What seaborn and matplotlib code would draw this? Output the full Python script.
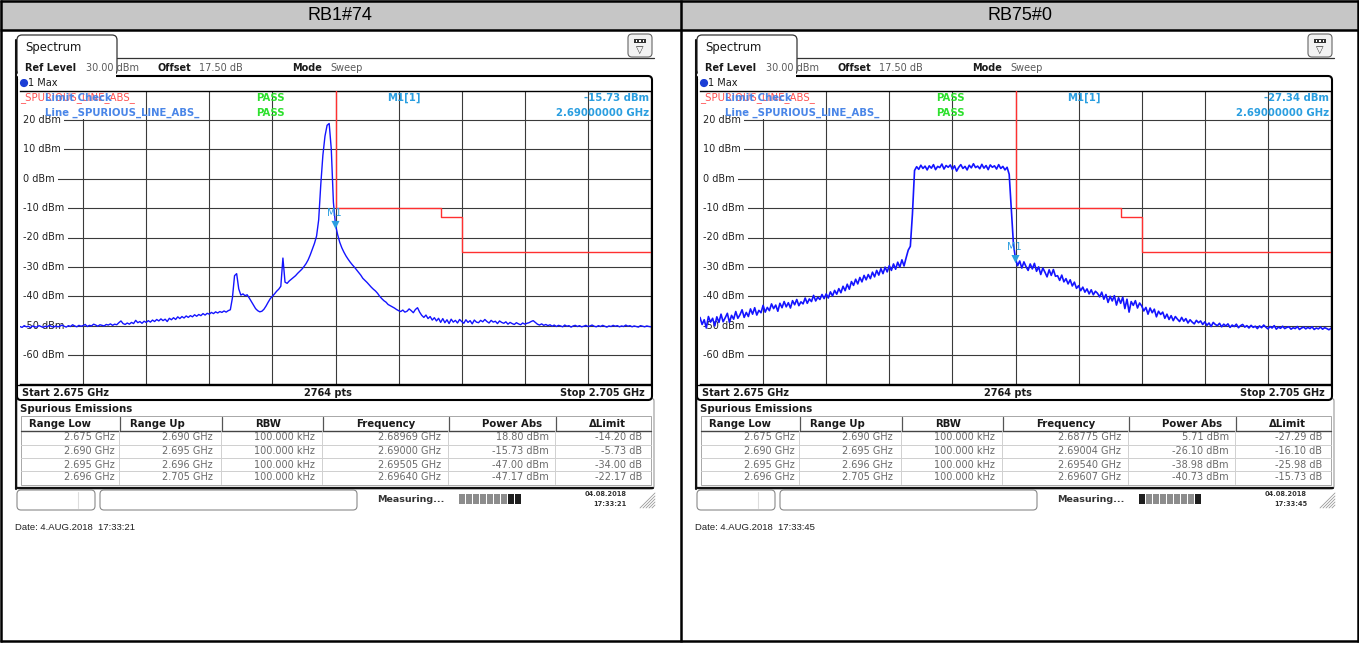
import numpy as np
import pandas as pd
import matplotlib
matplotlib.use('Agg')
import matplotlib.pyplot as plt
import matplotlib.patches as mpatches
import matplotlib.transforms as mtransforms
import seaborn as sns

W, H = 1359, 651

# ---- data ----------------------------------------------------------------
panel_titles = ['RB1#74', 'RB75#0']
f_start, f_stop = 2.675, 2.705          # GHz, levels below every 0.1 MHz
n_pts = 2764

# trace 1 Max, RB1#74 (dBm)
rb1_level = [
    -50.3, -50.6, -50.0, -50.4, -50.2, -50.7, -50.1, -50.4, -50.5, -50.0,
    -50.3, -50.6, -50.2, -50.4, -49.9, -50.3, -50.5, -50.1, -50.4, -50.2,
    -49.8, -50.2, -50.5, -50.0, -50.3, -49.7, -50.1, -50.4, -49.9, -50.2,
    -50.0, -49.6, -50.3, -49.9, -50.1, -49.5, -49.8, -50.2, -49.7, -49.9,
    -50.1, -49.6, -49.8, -49.4, -49.9, -49.5, -49.7, -49.0, -48.4, -49.3,
    -49.6, -49.1, -49.5, -48.9, -49.3, -48.2, -49.0, -48.6, -49.2, -48.5,
    -48.9, -48.3, -48.8, -48.1, -48.6, -47.9, -48.4, -47.7, -48.3, -47.8,
    -48.6, -47.5, -48.0, -47.3, -47.9, -47.0, -47.6, -46.9, -47.4, -46.7,
    -47.2, -46.6, -47.0, -46.3, -46.8, -46.2, -46.6, -45.9, -46.4, -45.8,
    -46.1, -45.5, -45.9, -45.3, -45.7, -45.2, -45.5, -45.0, -45.4, -44.9,
    -44.6, -40.5, -33.0, -32.3, -37.5, -39.6, -39.2, -39.8, -39.5, -40.6,
    -41.8, -43.0, -44.2, -44.9, -45.3, -45.1, -44.4, -43.3, -42.0, -40.8,
    -40.0, -39.2, -38.3, -37.6, -36.6, -27.0, -35.2, -35.6, -34.8, -34.2,
    -33.6, -33.0, -32.2, -31.5, -30.8, -29.9, -28.9, -27.6, -25.9, -24.0,
    -22.0, -19.5, -14.0, -2.0, 8.0, 14.5, 18.2, 18.8, 10.0, -8.0,
    -15.7, -19.0, -21.6, -23.5, -25.0, -26.3, -27.4, -28.4, -29.3, -30.1,
    -31.0, -31.9, -32.8, -33.9, -34.6, -35.3, -36.1, -36.9, -37.6, -38.2,
    -39.0, -40.0, -40.8, -41.5, -42.0, -42.8, -43.2, -43.6, -44.0, -44.5,
    -44.9, -45.2, -44.7, -45.4, -45.1, -44.3, -44.9, -45.6, -44.5, -43.9,
    -45.4, -46.5, -47.2, -46.4, -47.6, -46.9, -48.1, -47.3, -48.4, -47.5,
    -48.9, -47.6, -49.0, -48.0, -49.3, -47.8, -48.8, -48.2, -49.1, -47.9,
    -48.6, -49.2, -48.0, -48.9, -48.3, -49.4, -48.1, -48.8, -49.0, -48.2,
    -48.7, -47.9, -48.6, -49.1, -48.2, -48.8, -48.5, -49.3, -48.4, -48.9,
    -49.2, -48.7, -49.5, -48.9, -49.3, -49.6, -49.0, -49.4, -49.7, -49.1,
    -49.5, -49.2, -49.0, -48.6, -48.3, -48.9, -49.5, -49.8, -49.4, -49.9,
    -49.6, -50.0, -49.7, -50.2, -49.8, -50.3, -49.9, -50.1, -50.4, -49.8,
    -50.2, -50.0, -50.5, -50.1, -49.9, -50.3, -50.0, -50.4, -50.2, -49.9,
    -50.3, -50.1, -49.8, -50.2, -50.4, -50.0, -50.3, -49.9, -50.2, -50.5,
    -50.1, -50.3, -49.9, -50.2, -50.0, -50.4, -50.1, -50.3, -49.8, -50.2,
    -50.0, -50.4, -50.1, -50.3, -50.5, -50.0, -50.2, -50.4, -50.1, -50.3, -50.4,
]

# trace 1 Max, RB75#0 (dBm)
rb75_level = [
    -47.2, -49.6, -48.0, -50.8, -46.9, -48.8, -47.5, -50.1, -47.0, -48.9,
    -46.1, -48.7, -47.3, -45.8, -48.9, -46.5, -47.8, -45.2, -47.5, -46.3,
    -44.6, -47.2, -45.5, -46.9, -44.3, -46.1, -43.9, -46.4, -44.8, -45.6,
    -43.1, -45.4, -43.8, -44.9, -42.6, -44.2, -43.0, -45.1, -42.4, -43.9,
    -41.8, -43.6, -42.2, -44.0, -41.5, -42.9, -41.1, -43.2, -41.9, -42.6,
    -40.6, -42.4, -40.9, -41.8, -39.7, -41.6, -40.3, -41.1, -39.4, -40.8,
    -39.2, -40.6, -38.5, -39.9, -38.0, -39.3, -37.4, -38.8, -36.6, -38.1,
    -35.9, -37.6, -35.0, -36.3, -34.2, -35.8, -33.6, -35.1, -32.9, -34.4,
    -32.6, -34.0, -31.8, -33.4, -31.2, -32.8, -30.6, -32.3, -30.1, -31.7,
    -29.6, -31.2, -29.0, -30.8, -28.4, -30.1, -27.6, -29.7, -26.9, -24.3,
    -23.0, -12.0, 2.8, 4.1, 3.2, 4.6, 3.5, 4.3, 3.0, 4.4,
    3.6, 4.8, 3.1, 4.2, 3.8, 5.0, 3.3, 4.5, 3.9, 4.7,
    3.2, 4.4, 2.6, 3.9, 4.8, 3.5, 4.2, 3.0, 4.6, 3.7,
    5.1, 3.8, 4.3, 3.4, 4.9, 3.6, 4.5, 3.1, 4.7, 3.9,
    4.4, 3.3, 4.8, 3.5, 4.2, 3.0, 3.9, 1.5, -10.0, -22.0,
    -27.3, -29.6, -28.0, -30.4, -28.3, -29.9, -31.2, -29.0, -30.7, -28.8,
    -31.5, -30.0, -32.6, -30.4, -31.8, -33.4, -31.0, -32.9, -30.9, -33.2,
    -33.0, -34.6, -32.8, -35.1, -34.0, -35.8, -34.4, -36.5, -35.2, -37.3,
    -36.4, -38.1, -36.9, -38.6, -37.5, -39.2, -37.8, -39.5, -38.3, -39.0,
    -40.2, -38.6, -41.0, -39.4, -42.1, -40.0, -41.6, -39.8, -43.0, -40.5,
    -42.4, -40.3, -44.2, -41.0, -45.4, -41.8, -43.1, -41.5, -44.0, -42.3,
    -43.3, -45.0, -43.8, -46.1, -44.0, -45.6, -44.4, -47.0, -45.1, -46.2,
    -45.4, -47.5, -46.1, -47.9, -46.6, -48.3, -46.9, -47.8, -48.6, -47.2,
    -48.5, -47.6, -49.1, -48.0, -48.8, -49.4, -48.2, -49.0, -48.4, -49.6,
    -48.7, -49.9, -49.1, -50.3, -48.9, -49.6, -50.0, -49.2, -50.4, -49.5,
    -50.1, -49.4, -50.6, -49.8, -50.3, -49.5, -50.7, -50.0, -49.6, -50.5,
    -50.0, -50.8, -49.9, -50.6, -50.2, -51.0, -50.1, -50.7, -49.8, -50.5,
    -51.1, -50.3, -50.8, -50.0, -51.2, -50.5, -50.9, -50.2, -51.0, -50.6,
    -50.4, -51.2, -50.7, -51.0, -50.3, -51.3, -50.8, -50.5, -51.1, -50.6,
    -51.0, -50.4, -51.3, -50.8, -51.1, -50.5, -51.2, -50.7, -51.0, -51.4, -50.9,
]
traces = [rb1_level, rb75_level]

# _SPURIOUS_LINE_ABS_ limit (dBm, step starts)
limit_freq = [2.675, 2.690, 2.695, 2.696, 2.705]
limit_level = [33.0, -10.0, -13.0, -25.0, -25.0]

m1_freq = 2.690
m1_level = [-15.73, -27.34]

ytick_vals = [20, 10, 0, -10, -20, -30, -40, -50, -60]

range_low = ['2.675 GHz', '2.690 GHz', '2.695 GHz', '2.696 GHz']
range_up = ['2.690 GHz', '2.695 GHz', '2.696 GHz', '2.705 GHz']
rbw = ['100.000 kHz', '100.000 kHz', '100.000 kHz', '100.000 kHz']
spur_freq = [['2.68969 GHz', '2.69000 GHz', '2.69505 GHz', '2.69640 GHz'],
             ['2.68775 GHz', '2.69004 GHz', '2.69540 GHz', '2.69607 GHz']]
spur_power = [['18.80 dBm', '-15.73 dBm', '-47.00 dBm', '-47.17 dBm'],
              ['5.71 dBm', '-26.10 dBm', '-38.98 dBm', '-40.73 dBm']]
spur_delta = [['-14.20 dB', '-5.73 dB', '-34.00 dB', '-22.17 dB'],
              ['-27.29 dB', '-16.10 dB', '-25.98 dB', '-15.73 dB']]
clock = ['17:33:21', '17:33:45']
progress = [[0, 0, 0, 0, 0, 0, 0, 1, 1], [1, 0, 0, 0, 0, 0, 0, 0, 1]]

# ---- colours -------------------------------------------------------------
TRACE = '#1414ff'
LIMIT = '#ff3030'
MARK = '#2a9ee0'
LBLUE = '#4a86e8'
GREEN = '#2ee02e'
GRAYTXT = '#5a5a5a'

sns.set_style('white')
plt.rcParams['font.family'] = ['DejaVu Sans']

fig = plt.figure(figsize=(W / 100, H / 100), dpi=100)
bg = fig.add_axes([0, 0, 1, 1], zorder=0)
bg.set_xlim(0, W)
bg.set_ylim(H, 0)
bg.axis('off')
PX = bg.transData


def txt(ax, x, y, s, size=7, weight='normal', color='#1a1a1a', ha='left', **kw):
    ax.text(x, y, s, transform=PX, fontsize=size, fontweight=weight, color=color,
            ha=ha, va='center', **kw)


def rbox(x0, y0, x1, y1, r, **kw):
    bg.add_patch(mpatches.FancyBboxPatch((x0 + r, y0 + r), x1 - x0 - 2 * r, y1 - y0 - 2 * r,
                                         boxstyle=f'round,pad={r}', **kw))


# header band and cell borders
bg.add_patch(mpatches.Rectangle((0, 0), W, 30, facecolor='#c6c6c6', edgecolor='none'))
for xs, ys in [([1, 1], [0, 642]), ([1357.5, 1357.5], [0, 642]), ([0, W], [1, 1]),
               ([0, W], [641, 641]), ([0, W], [30, 30]), ([681, 681], [0, 642])]:
    bg.plot(xs, ys, color='black', lw=1.8, solid_capstyle='butt')


def draw_panel(i):
    ox = 680 * i
    txt(bg, ox + 340, 15, panel_titles[i], size=13, ha='center', family='Liberation Sans',
        color='black')

    # window tab + frame
    rbox(ox + 17, 35, ox + 117, 75, 5, facecolor='white', edgecolor='#333333', lw=0.9)
    bg.add_patch(mpatches.Rectangle((ox + 17.6, 58.6), 98.8, 20, facecolor='white',
                                    edgecolor='none', zorder=1.1))
    bg.plot([ox + 117, ox + 654], [58.3, 58.3], color='#333333', lw=0.9)
    bg.plot([ox + 16.3, ox + 16.3], [40, 489], color='#111111', lw=1.5)
    txt(bg, ox + 25, 47, 'Spectrum', size=8.4)
    rbox(ox + 628, 34, ox + 652, 57, 4, facecolor='#f2f2f2', edgecolor='#666666', lw=0.8)
    bg.add_patch(mpatches.Rectangle((ox + 634, 38.5), 12, 4.5, facecolor='#333333', edgecolor='none'))
    for dx in (636.5, 640, 643.5):
        bg.add_patch(mpatches.Rectangle((ox + dx - 0.9, 39.9), 1.8, 1.8, facecolor='white',
                                        edgecolor='none', zorder=2))
    txt(bg, ox + 640, 50, '\u25bd', size=7, ha='center', color='#333333')

    # settings row
    txt(bg, ox + 25, 68, 'Ref Level', size=7, weight='bold')
    txt(bg, ox + 86, 68, '30.00 dBm', size=7, color=GRAYTXT)
    txt(bg, ox + 157, 68, 'Offset', size=7, weight='bold')
    txt(bg, ox + 199, 68, '17.50 dB', size=7, color=GRAYTXT)
    txt(bg, ox + 292, 68, 'Mode', size=7, weight='bold')
    txt(bg, ox + 330, 68, 'Sweep', size=7, color=GRAYTXT)

    # diagram box
    rbox(ox + 17, 76, ox + 652, 400, 4, facecolor='white', edgecolor='black', lw=1.5)
    bg.add_patch(mpatches.Circle((ox + 24, 83), 3.4, color='#1c3fd6'))
    txt(bg, ox + 28, 83.5, '1 Max', size=7)
    bg.plot([ox + 18, ox + 651], [385, 385], color='black', lw=1.0)

    # spectrum axes (30 dBm .. -70 dBm, 2.675 .. 2.705 GHz)
    ax = fig.add_axes([(ox + 20) / W, 1 - 384.4 / H, 631 / W, 293.8 / H], zorder=1)
    df = pd.DataFrame({'GHz': np.linspace(f_start, f_stop, len(traces[i])), 'dBm': traces[i]})
    sns.lineplot(data=df, x='GHz', y='dBm', ax=ax, color=TRACE, linewidth=1.0 + 0.2 * i,
                 estimator=None, sort=False, zorder=4)
    sns.lineplot(x=limit_freq, y=limit_level, ax=ax, color=LIMIT, linewidth=1.0,
                 drawstyle='steps-post', estimator=None, sort=False, zorder=3)
    sns.scatterplot(x=[m1_freq], y=[m1_level[i]], ax=ax, marker='v', s=34, color=MARK,
                    edgecolor='none', zorder=6)
    ax.annotate('M1', (m1_freq, m1_level[i]), xytext=(-1, 8.5), textcoords='offset points',
                ha='center', va='center', fontsize=7, color=MARK, zorder=6)
    ax.set_xlim(f_start, f_stop)
    ax.set_ylim(-70, 30)
    ax.set_xlabel('')
    ax.set_ylabel('')
    ax.set_xticks([])
    ax.set_yticks([])
    for f in np.linspace(f_start, f_stop, 11)[1:-1]:
        ax.axvline(f, color='#3a3a3a', lw=0.8, zorder=1)
    for v in ytick_vals:
        ax.axhline(v, color='#3a3a3a', lw=0.8, zorder=1)
    for side in ['top', 'bottom', 'right']:
        ax.spines[side].set_color('black')
        ax.spines[side].set_linewidth(1.0)
    ax.spines['left'].set_visible(False)

    ylab = mtransforms.blended_transform_factory(PX, ax.transData)
    for v in ytick_vals:
        ax.text(ox + 23, v, f'{v} dBm', transform=ylab, fontsize=7, color='#222222',
                va='center', ha='left', zorder=2.5,
                bbox=dict(facecolor='white', edgecolor='none', pad=2.4))

    # limit check / marker info
    ax.add_patch(mpatches.Rectangle((ox + 20, 91.5), 120, 27, transform=PX, facecolor='white',
                                    edgecolor='none', zorder=2))
    txt(ax, ox + 20, 98, '_SPURIOUS_LINE_ABS_', size=7.3, color='#ff5050', zorder=5)
    txt(ax, ox + 45, 98, 'Limit Check', size=7.3, weight='bold', color=LBLUE, zorder=5)
    txt(ax, ox + 45, 112.5, 'Line _SPURIOUS_LINE_ABS_', size=7.3, weight='bold', color=LBLUE,
        zorder=5)
    txt(ax, ox + 270.5, 98, 'PASS', size=7.3, weight='bold', color=GREEN, ha='center', zorder=5)
    txt(ax, ox + 270.5, 112.5, 'PASS', size=7.3, weight='bold', color=GREEN, ha='center', zorder=5)
    txt(ax, ox + 387, 98, 'M1[1]', size=7.3, weight='bold', color=MARK, zorder=5)
    txt(ax, ox + 649, 98, f'{m1_level[i]:.2f} dBm', size=7.3, weight='bold', color=MARK,
        ha='right', zorder=5)
    txt(ax, ox + 649, 112.5, f'{m1_freq:.8f} GHz', size=7.3, weight='bold', color=MARK,
        ha='right', zorder=5)

    # footer of diagram
    txt(bg, ox + 22, 393, f'Start {f_start:.3f} GHz', size=7, weight='bold')
    txt(bg, ox + 328, 393, f'{n_pts} pts', size=7, weight='bold', ha='center')
    txt(bg, ox + 645, 393, f'Stop {f_stop:.3f} GHz', size=7, weight='bold', ha='right')

    # spurious emissions table
    rbox(ox + 17, 398, ox + 654, 489, 3, facecolor='white', edgecolor='#9a9a9a', lw=0.8, zorder=0.5)
    bg.plot([ox + 16.3, ox + 653], [488.3, 488.3], color='#111111', lw=1.6)
    txt(bg, ox + 20, 409, 'Spurious Emissions', size=7.4, weight='bold')
    bg.add_patch(mpatches.Rectangle((ox + 20.5, 416), 630, 68.5, facecolor='white',
                                    edgecolor='#a8a8a8', lw=0.7))
    bg.plot([ox + 20.5, ox + 650.5], [431, 431], color='#444444', lw=1.0)
    for yl in (444.5, 457.7, 471):
        bg.plot([ox + 20.5, ox + 650.5], [yl, yl], color='#cfcfcf', lw=0.7)
    for xs in (120, 222, 323, 449, 556):
        bg.plot([ox + xs, ox + xs], [417, 430], color='#555555', lw=0.9)
        bg.plot([ox + xs - 1.5, ox + xs - 1.5], [431, 484], color='#d0d0d0', lw=0.7)
    heads = ['Range Low', 'Range Up', 'RBW', 'Frequency', 'Power Abs', '\u0394Limit']
    for hc, hname in zip([60, 157, 268, 386, 512, 607], heads):
        txt(bg, ox + hc, 424, hname, size=7.3, weight='bold', ha='center')
    cols = [range_low, range_up, rbw, spur_freq[i], spur_power[i], spur_delta[i]]
    for xr, col in zip([115, 213, 315, 441, 549, 642], cols):
        for yr, s in zip([437.5, 451, 464.5, 477.5], col):
            txt(bg, ox + xr, yr, s, size=7, color='#6a6a6a', ha='right')

    # status bar
    rbox(ox + 17, 490, ox + 95, 510, 4, facecolor='white', edgecolor='#8a8a8a', lw=0.8)
    bg.plot([ox + 78, ox + 78], [492, 508], color='#dddddd', lw=0.8)
    rbox(ox + 100, 490, ox + 357, 510, 4, facecolor='white', edgecolor='#8a8a8a', lw=0.8)
    txt(bg, ox + 377, 499, 'Measuring...', size=6.8, weight='bold', color='#333333')
    for j, p in enumerate(progress[i]):
        bg.add_patch(mpatches.Rectangle((ox + 459 + j * 7.0, 494), 6.3, 10,
                                        facecolor='#1e1e1e' if p else '#8c8c8c',
                                        edgecolor='none'))
    txt(bg, ox + 606, 494, '04.08.2018', size=4.8, weight='bold', ha='center', color='#333333')
    txt(bg, ox + 627, 503.5, clock[i], size=4.8, weight='bold', ha='right', color='#333333')
    for d in range(0, 16, 3):
        bg.plot([ox + 640 + d, ox + 655], [508, 493 + d], color='#9a9a9a', lw=0.6)

    txt(bg, ox + 15, 528, f'Date: 4.AUG.2018  {clock[i]}', size=6.8,
        family='Liberation Sans', color='#222222')


for k in range(2):
    draw_panel(k)

fig.savefig('out.png', dpi=100)
